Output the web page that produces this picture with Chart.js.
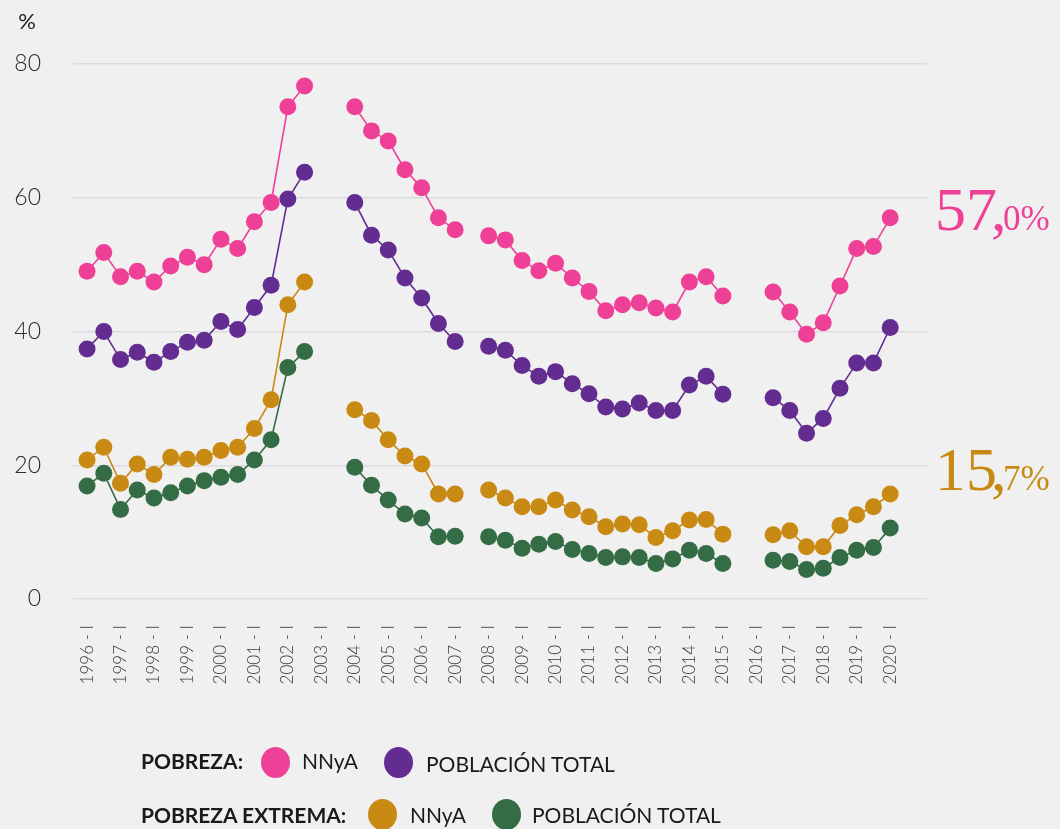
<!DOCTYPE html>
<html>
<head>
<meta charset="utf-8">
<script src="https://cdn.jsdelivr.net/npm/chart.js@4.4.1/dist/chart.umd.min.js"></script>
<style>
  body { margin: 0; background: #f0f0f0; }
  #wrap { position: relative; width: 1060px; height: 829px; overflow: hidden; }
  #myChart { position: absolute; left: 0; top: 0; }
  .lg { position: absolute; font-family: Lato, sans-serif; font-size: 21px; color: #1a1a1a; white-space: nowrap; line-height: 30px; }
  .lg b { font-weight: 700; }
  .dot { position: absolute; width: 29px; height: 31px; border-radius: 50%; }
</style>
</head>
<body>
<div id="wrap">
  <canvas id="myChart" width="1060" height="829"></canvas>

  <!-- legend -->
  <div class="lg" style="left:141px; top:746px;"><b>POBREZA:</b></div>
  <div class="dot" style="left:261px; top:747px; background:#ee4096;"></div>
  <div class="lg" style="left:302px; top:746px;">NNyA</div>
  <div class="dot" style="left:384px; top:747px; background:#632c91;"></div>
  <div class="lg" style="left:426px; top:749px;">POBLACIÓN TOTAL</div>

  <div class="lg" style="left:141px; top:800px;"><b>POBREZA EXTREMA:</b></div>
  <div class="dot" style="left:368px; top:799px; background:#c98a14;"></div>
  <div class="lg" style="left:410px; top:800px;">NNyA</div>
  <div class="dot" style="left:492px; top:799px; background:#346d45;"></div>
  <div class="lg" style="left:532px; top:800px;">POBLACIÓN TOTAL</div>
</div>

<script>
// semesters 1996-I .. 2020-I
var categories = [
  '1996 - I', '1996 - II', '1997 - I', '1997 - II', '1998 - I', '1998 - II', '1999 - I', '1999 - II',
  '2000 - I', '2000 - II', '2001 - I', '2001 - II', '2002 - I', '2002 - II', '2003 - I', '2003 - II',
  '2004 - I', '2004 - II', '2005 - I', '2005 - II', '2006 - I', '2006 - II', '2007 - I', '2007 - II',
  '2008 - I', '2008 - II', '2009 - I', '2009 - II', '2010 - I', '2010 - II', '2011 - I', '2011 - II',
  '2012 - I', '2012 - II', '2013 - I', '2013 - II', '2014 - I', '2014 - II', '2015 - I', '2015 - II',
  '2016 - I', '2016 - II', '2017 - I', '2017 - II', '2018 - I', '2018 - II', '2019 - I', '2019 - II',
  '2020 - I'
];

// only the first semester of each year gets a label
var tickLabels = [
  '1996 - I', '1997 - I', '1998 - I', '1999 - I', '2000 - I', '2001 - I', '2002 - I', '2003 - I',
  '2004 - I', '2005 - I', '2006 - I', '2007 - I', '2008 - I', '2009 - I', '2010 - I', '2011 - I',
  '2012 - I', '2013 - I', '2014 - I', '2015 - I', '2016 - I', '2017 - I', '2018 - I', '2019 - I',
  '2020 - I'
];

var yTicks = [0, 20, 40, 60, 80];

var pobrezaNNyA = [
  49.0, 51.8, 48.2, 49.0, 47.4, 49.8, 51.1, 50.0, 53.8, 52.4, 56.4, 59.3, 73.6, 76.7, null, null,
  73.6, 70.0, 68.5, 64.2, 61.5, 57.0, 55.2, null,
  54.3, 53.7, 50.6, 49.1, 50.2, 48.0, 46.0, 43.1, 44.0, 44.3, 43.5, 42.9, 47.4, 48.2, 45.3, null,
  null, 45.9, 42.9, 39.6, 41.3, 46.8, 52.4, 52.7, 57.0
];

var pobrezaTotal = [
  37.4, 40.0, 35.8, 36.9, 35.4, 37.0, 38.4, 38.7, 41.5, 40.3, 43.6, 46.9, 59.8, 63.8, null, null,
  59.3, 54.4, 52.2, 48.0, 45.0, 41.2, 38.5, null,
  37.8, 37.2, 34.9, 33.3, 34.0, 32.2, 30.7, 28.7, 28.4, 29.3, 28.2, 28.2, 32.0, 33.3, 30.6, null,
  null, 30.1, 28.2, 24.8, 27.0, 31.5, 35.3, 35.3, 40.6
];

var extremaNNyA = [
  20.8, 22.7, 17.3, 20.2, 18.6, 21.2, 20.9, 21.2, 22.2, 22.7, 25.5, 29.8, 44.0, 47.4, null, null,
  28.3, 26.7, 23.8, 21.4, 20.2, 15.7, 15.7, null,
  16.3, 15.1, 13.8, 13.8, 14.8, 13.3, 12.3, 10.8, 11.2, 11.1, 9.2, 10.2, 11.8, 11.9, 9.7, null,
  null, 9.6, 10.2, 7.8, 7.8, 11.0, 12.6, 13.8, 15.7
];

var extremaTotal = [
  16.9, 18.8, 13.4, 16.3, 15.1, 15.9, 16.9, 17.7, 18.2, 18.6, 20.8, 23.8, 34.6, 37.0, null, null,
  19.7, 17.0, 14.8, 12.7, 12.1, 9.3, 9.4, null,
  9.3, 8.8, 7.6, 8.2, 8.6, 7.4, 6.8, 6.2, 6.3, 6.2, 5.3, 6.0, 7.3, 6.8, 5.3, null,
  null, 5.8, 5.6, 4.4, 4.6, 6.2, 7.3, 7.7, 10.6
];

// highlighted latest values shown at the right
var callouts = [
  { big: '57', small: '0%', color: '#ee4096', baseline: 230 },
  { big: '15', small: '7%', color: '#c98a14', baseline: 490 }
];

function toPoints(arr) {
  return arr.map(function (v, i) { return { x: i, y: v }; });
}

function serie(arr, color) {
  return {
    data: toPoints(arr),
    borderColor: color,
    backgroundColor: color,
    borderWidth: 1.6,
    pointRadius: 8.5,
    pointHoverRadius: 8.5,
    pointBorderWidth: 0,
    spanGaps: false,
    tension: 0
  };
}

var extras = {
  id: 'extras',
  afterDraw: function (chart) {
    var c = chart.ctx;
    c.save();
    // unit label
    c.fillStyle = '#222';
    c.font = '400 22px Lato, sans-serif';
    c.textAlign = 'center';
    c.textBaseline = 'middle';
    c.fillText('%', 27, 22);

    // big numbers: digits, comma, then smaller decimals
    c.textAlign = 'left';
    c.textBaseline = 'alphabetic';
    callouts.forEach(function (o) {
      var x = 935;
      c.fillStyle = o.color;
      c.font = '62px "Liberation Serif", serif';
      c.fillText(o.big, x, o.baseline);
      var w = c.measureText(o.big).width;
      c.fillText(',', x + w - 6, o.baseline);
      c.font = '35px "Liberation Serif", serif';
      c.fillText(o.small, x + w + 6, o.baseline);
    });
    c.restore();
  }
};

var ctx = document.getElementById('myChart').getContext('2d');
var myLineChart = new Chart(ctx, {
  type: 'line',
  data: {
    datasets: [
      serie(pobrezaNNyA, '#ee4096'),
      serie(pobrezaTotal, '#632c91'),
      serie(extremaNNyA, '#c98a14'),
      serie(extremaTotal, '#346d45')
    ]
  },
  options: {
    responsive: false,
    animation: false,
    layout: { padding: { left: 0, right: 133, top: 64, bottom: 0 } },
    plugins: {
      legend: { display: false },
      tooltip: { enabled: false }
    },
    scales: {
      x: {
        type: 'linear',
        min: -0.84,
        max: 50.2,
        grid: { display: false },
        border: { display: false },
        afterFit: function (s) { s.height = 230; },
        afterBuildTicks: function (s) {
          s.ticks = tickLabels.map(function (t) { return { value: categories.indexOf(t) }; });
        },
        ticks: {
          autoSkip: false,
          minRotation: 90,
          maxRotation: 90,
          padding: 18,
          color: '#3a3a3a',
          font: { family: 'Lato, sans-serif', size: 17, weight: '300' },
          callback: function (v) { return categories[v]; }
        }
      },
      y: {
        min: 0,
        max: 80,
        afterFit: function (s) { s.width = 73; },
        afterBuildTicks: function (s) {
          s.ticks = yTicks.map(function (v) { return { value: v }; });
        },
        grid: { color: '#dcdbe2', lineWidth: 1.5, drawTicks: false },
        border: { display: false },
        ticks: {
          padding: 32,
          color: '#2a2a2a',
          font: { family: 'Lato, sans-serif', size: 23, weight: '300' }
        }
      }
    }
  },
  plugins: [extras]
});
</script>
</body>
</html>
